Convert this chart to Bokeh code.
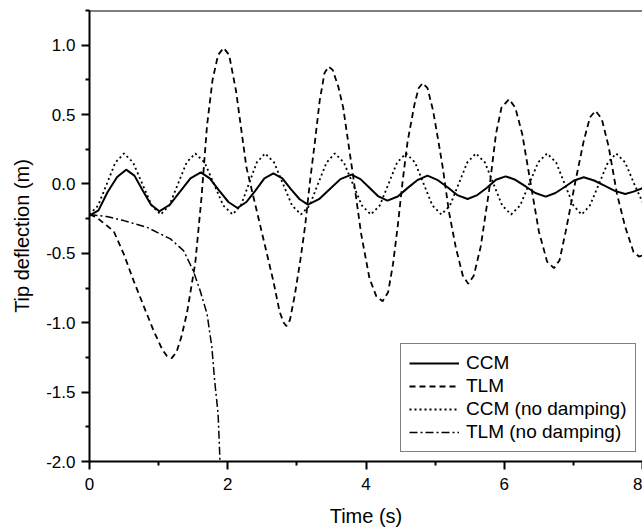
from bokeh.plotting import figure
from bokeh.models import Range1d, FixedTicker, Span
from bokeh.embed import file_html
from bokeh.resources import INLINE

# ---- data ----
series_names = ["CCM", "TLM", "CCM (no damping)", "TLM (no damping)"]

ccm_t = [0.00, 0.13, 0.26, 0.40, 0.53, 0.65, 0.77, 0.89, 1.01, 1.16, 1.31, 1.46, 1.61,
         1.74, 1.87, 2.01, 2.14, 2.27, 2.40, 2.53, 2.66, 2.79, 2.91, 3.04, 3.16, 3.32,
         3.47, 3.63, 3.79, 3.92, 4.05, 4.18, 4.31, 4.46, 4.60, 4.75, 4.89, 5.03, 5.18,
         5.32, 5.47, 5.61, 5.75, 5.88, 6.02, 6.16, 6.31, 6.45, 6.60, 6.74, 6.88, 7.01,
         7.15, 7.30, 7.45, 7.60, 7.75, 7.87, 8.00]
ccm_y = [-0.228, -0.19, -0.06, 0.05, 0.103, 0.06, -0.047, -0.15, -0.197, -0.15, -0.056,
         0.04, 0.084, 0.04, -0.045, -0.13, -0.173, -0.13, -0.048, 0.04, 0.076, 0.04,
         -0.036, -0.11, -0.149, -0.11, -0.04, 0.035, 0.067, 0.035, -0.027, -0.09, -0.12,
         -0.09, -0.03, 0.03, 0.06, 0.03, -0.024, -0.08, -0.108, -0.08, -0.027, 0.03,
         0.055, 0.03, -0.018, -0.065, -0.091, -0.065, -0.02, 0.025, 0.048, 0.025, -0.012,
         -0.05, -0.072, -0.055, -0.03]

tlm_t = [0.00, 0.10, 0.20, 0.35, 0.50, 0.64, 0.80, 0.93, 1.05, 1.12, 1.19, 1.26, 1.33,
         1.41, 1.53, 1.62, 1.70, 1.78, 1.86, 1.94, 2.02, 2.12, 2.27, 2.47, 2.66, 2.75,
         2.81, 2.85, 2.90, 2.97, 3.05, 3.12, 3.19, 3.26, 3.33, 3.40, 3.46, 3.52, 3.60,
         3.67, 3.81, 3.93, 4.05, 4.15, 4.24, 4.32, 4.39, 4.46, 4.53, 4.60, 4.70, 4.76,
         4.82, 4.89, 4.97, 5.05, 5.11, 5.20, 5.30, 5.40, 5.48, 5.56, 5.66, 5.78, 5.88,
         5.96, 6.07, 6.16, 6.26, 6.39, 6.50, 6.62, 6.72, 6.80, 6.89, 7.03, 7.15, 7.24,
         7.32, 7.41, 7.51, 7.63, 7.75, 7.87, 7.95, 8.00]
tlm_y = [-0.22, -0.24, -0.28, -0.34, -0.51, -0.70, -0.90, -1.06, -1.19, -1.24, -1.255,
         -1.21, -1.10, -0.93, -0.57, -0.10, 0.42, 0.75, 0.93, 0.98, 0.93, 0.67, 0.12,
         -0.30, -0.70, -0.92, -1.00, -1.024, -0.98, -0.80, -0.55, -0.30, 0.02, 0.30, 0.60,
         0.80, 0.846, 0.82, 0.70, 0.55, 0.07, -0.36, -0.68, -0.81, -0.845, -0.78, -0.58,
         -0.30, 0.02, 0.30, 0.57, 0.69, 0.727, 0.69, 0.53, 0.30, 0.12, -0.20, -0.46,
         -0.66, -0.72, -0.66, -0.45, -0.05, 0.36, 0.55, 0.611, 0.55, 0.36, -0.02, -0.34,
         -0.56, -0.607, -0.55, -0.34, 0.02, 0.31, 0.48, 0.527, 0.47, 0.27, -0.07, -0.31,
         -0.49, -0.523, -0.515]

ccmnd_t = [0.00, 0.125, 0.25, 0.375, 0.50, 0.63, 0.765, 0.90, 1.03, 1.155, 1.28, 1.405,
           1.53, 1.665, 1.80, 1.935, 2.07, 2.19, 2.305, 2.42, 2.54, 2.67, 2.80, 2.93,
           3.06, 3.185, 3.305, 3.43, 3.55, 3.68, 3.81, 3.94, 4.07, 4.20, 4.325, 4.45,
           4.58, 4.71, 4.835, 4.96, 5.09, 5.215, 5.34, 5.465, 5.59, 5.72, 5.845, 5.97,
           6.10, 6.23, 6.36, 6.49, 6.62, 6.75, 6.875, 7.00, 7.12, 7.24, 7.37, 7.50,
           7.62, 7.75, 7.88, 8.00]
ccmnd_y = [-0.22, -0.155, 0.0, 0.155, 0.22, 0.155, 0.0, -0.155, -0.22, -0.155, 0.0, 0.155,
           0.22, 0.155, 0.0, -0.155, -0.22, -0.155, 0.0, 0.155, 0.22, 0.155, 0.0, -0.155,
           -0.22, -0.155, 0.0, 0.155, 0.22, 0.155, 0.0, -0.155, -0.22, -0.155, 0.0, 0.155,
           0.22, 0.155, 0.0, -0.155, -0.22, -0.155, 0.0, 0.155, 0.22, 0.155, 0.0, -0.155,
           -0.22, -0.155, 0.0, 0.155, 0.22, 0.155, 0.0, -0.155, -0.22, -0.155, 0.0, 0.155,
           0.22, 0.155, 0.0, -0.13]

tlmnd_t = [0.00, 0.25, 0.495, 0.83, 1.17, 1.36, 1.50, 1.60, 1.70, 1.77, 1.81, 1.86, 1.88,
           1.90]
tlmnd_y = [-0.22, -0.235, -0.264, -0.312, -0.396, -0.48, -0.624, -0.768, -0.935, -1.175,
           -1.415, -1.655, -1.895, -2.2]

x_ticks = [0, 2, 4, 6, 8]
x_tick_labels = ["0", "2", "4", "6", "8"]
x_minor = [1, 3, 5, 7]
y_ticks = [-2.0, -1.5, -1.0, -0.5, 0.0, 0.5, 1.0]
y_tick_labels = ["-2.0", "-1.5", "-1.0", "-0.5", "0.0", "0.5", "1.0"]
y_minor = [-1.75, -1.25, -0.75, -0.25, 0.25, 0.75, 1.25]
x_start, x_end = 0, 8.0
y_start, y_end = -2.0, 1.25

FONT = "Liberation Sans"

p = figure(width=642, height=529, output_backend="svg", toolbar_location=None,
           x_range=Range1d(x_start, x_end), y_range=Range1d(y_start, y_end),
           min_border_left=89, min_border_right=0, min_border_top=10, min_border_bottom=68)
p.grid.visible = False
p.outline_line_color = None
p.background_fill_color = "white"
p.border_fill_color = "white"

p.line(ccm_t, ccm_y, line_color="black", line_width=2, legend_label=series_names[0])
p.line(tlm_t, tlm_y, line_color="black", line_width=1.8, line_dash="6 4",
       legend_label=series_names[1])
p.line(ccmnd_t, ccmnd_y, line_color="black", line_width=1.8, line_dash="2 3",
       legend_label=series_names[2])
p.line(tlmnd_t, tlmnd_y, line_color="black", line_width=1.5, line_dash="8 3 2 3",
       legend_label=series_names[3])

xa = p.xaxis[0]
xa.ticker = FixedTicker(ticks=x_ticks, minor_ticks=x_minor)
xa.major_label_overrides = {t: l for t, l in zip(x_ticks, x_tick_labels)}
xa.axis_label = "Time (s)"
ya = p.yaxis[0]
ya.ticker = FixedTicker(ticks=y_ticks, minor_ticks=y_minor)
ya.major_label_overrides = {t: l for t, l in zip(y_ticks, y_tick_labels)}
ya.axis_label = "Tip deflection (m)"

for ax in (xa, ya):
    ax.axis_line_width = 2
    ax.axis_line_color = "black"
    ax.major_tick_line_width = 2
    ax.minor_tick_line_width = 2
    ax.major_tick_out = 8
    ax.major_tick_in = 0
    ax.minor_tick_out = 4
    ax.minor_tick_in = 0
    ax.major_label_text_font = FONT
    ax.major_label_text_font_size = "17px"
    ax.major_label_text_color = "black"
    ax.axis_label_text_font = FONT
    ax.axis_label_text_font_size = "20px"
    ax.axis_label_text_font_style = "normal"
    ax.axis_label_text_color = "black"
xa.major_label_standoff = 8
xa.axis_label_standoff = 12
ya.major_label_standoff = 6
ya.axis_label_standoff = 10

# top frame edge (no right edge, as in the reference)
p.add_layout(Span(location=y_end, dimension="width", line_color="black", line_width=2))

lg = p.legend[0]
lg.location = (311, 9)
lg.margin = 0
lg.padding = 8
lg.spacing = 1
lg.glyph_width = 50
lg.glyph_height = 20
lg.label_height = 20
lg.label_standoff = 7
lg.label_text_font = FONT
lg.label_text_font_size = "19px"
lg.label_text_color = "black"
lg.border_line_color = "black"
lg.border_line_width = 1
lg.background_fill_alpha = 1.0

open("out.html", "w").write(file_html(p, INLINE))
